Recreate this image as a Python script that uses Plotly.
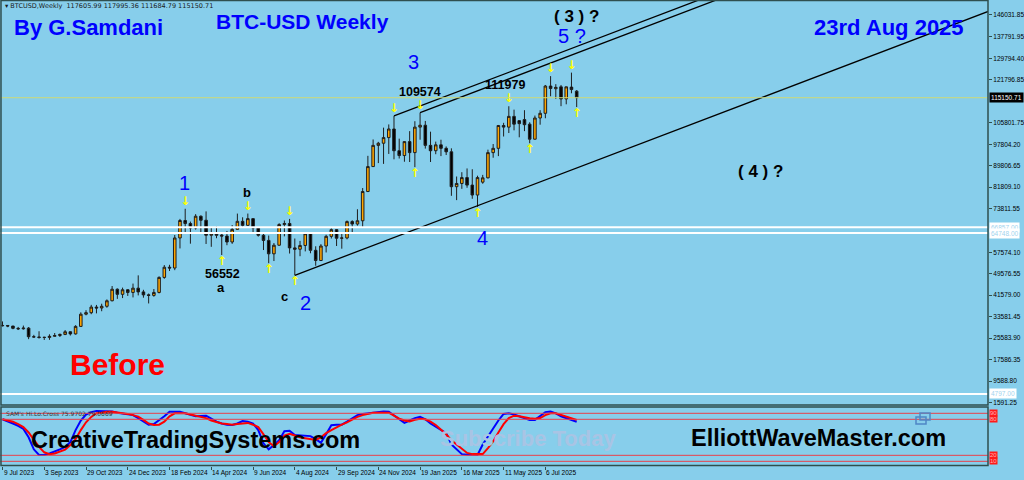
import plotly.graph_objects as go

# weekly bars, index 0 = week of 9 Jul 2023 (MT4 weekly)
OPEN = [30170, 30290, 30080, 29230, 29050, 29300, 26100, 26000, 25900, 25830,
        26250, 26560, 26950, 27950, 27150, 29950, 34500, 35050, 37150, 36800,
        37450, 39500, 43800, 41900, 43600, 42600, 44200, 42800, 41700, 41500,
        42600, 48200, 52000, 51700, 62900, 69400, 68300, 66600, 71000, 69500,
        63900, 64500, 64000, 63600, 61400, 66100, 69100, 67600, 70100, 66600,
        63900, 62000, 57000, 60200, 67900, 68300, 59200, 58700, 60100, 64500,
        58300, 54500, 59900, 63500, 66000, 62800, 62900, 69000, 68100, 69300,
        80200, 89500, 97400, 98200, 100300, 103500, 95400, 93600, 98800, 94700,
        104200, 104900, 97400, 95400, 97600, 96300, 95000, 82000, 83200, 85400,
        82600, 78900, 83700, 85300, 94700, 96300, 104800, 104200, 108200, 106600,
        107000, 105300, 99700, 107600, 109350, 119500, 118500, 119200, 114700, 119100,
        117606]
HIGH = [31800, 30400, 30150, 29750, 30250, 29700, 26800, 28140, 26100, 27000,
        27480, 27300, 28580, 28100, 30400, 35200, 35980, 37980, 37950, 38400,
        40000, 45000, 44100, 44400, 43800, 45900, 48970, 43580, 42200, 43880,
        48600, 52800, 52900, 64000, 70000, 73780, 69000, 71770, 71300, 72800,
        66900, 67200, 64700, 65500, 67700, 71980, 70600, 71990, 70200, 66900,
        64500, 63800, 61000, 68400, 69400, 70000, 62700, 61800, 65000, 64900,
        59800, 60600, 64100, 66500, 66100, 64500, 69400, 69500, 73600, 81500,
        93500, 99600, 98700, 104000, 105200, 108350, 99900, 98900, 102700, 106400,
        109574, 106500, 102500, 98800, 99500, 97000, 96300, 85800, 87400, 88800,
        88500, 86100, 86400, 95800, 97900, 105000, 105800, 111980, 110700, 106800,
        110500, 106000, 108500, 110500, 119900, 123200, 120200, 119900, 119300, 124500,
        117995]
LOW = [29950, 29650, 28900, 28600, 28750, 25200, 25800, 25400, 24900, 24950,
       26150, 26000, 26700, 26550, 26900, 29750, 34070, 34500, 34800, 35600,
       36900, 39300, 40200, 40500, 41300, 40750, 41500, 40650, 38500, 41000,
       42260, 47700, 50600, 50900, 59000, 64500, 60770, 66000, 64500, 60660,
       59600, 62800, 56552, 60200, 60700, 66000, 66600, 67400, 65000, 63400,
       58400, 53500, 54300, 60000, 63500, 57100, 49000, 56100, 57900, 57200,
       52550, 54300, 57500, 62700, 59900, 58900, 62400, 65000, 67500, 66800,
       80000, 89400, 90800, 90500, 94200, 92200, 92500, 91300, 91200, 89300,
       99500, 96200, 91200, 94100, 93400, 93800, 78600, 77000, 81200, 81600,
       77500, 74500, 83100, 85100, 92800, 93400, 100700, 102000, 103000, 100400,
       102700, 98200, 99600, 105100, 107500, 115700, 114700, 112000, 112700, 116800,
       111685]
CLOSE = [30290, 30080, 29230, 29050, 29300, 26100, 26000, 25850, 25830, 26250,
         26560, 26950, 27950, 27150, 29950, 34500, 35050, 37150, 36800, 37450,
         39500, 43800, 41900, 43600, 42600, 44200, 42800, 41700, 41500, 42600,
         48200, 52000, 51700, 62900, 69400, 68300, 66600, 71000, 69500, 63900,
         64500, 63900, 63600, 61400, 66100, 69100, 67600, 70100, 66600, 63900,
         62000, 57000, 60200, 67900, 68300, 59200, 58700, 60100, 64500, 58300,
         54500, 59900, 63500, 66000, 62800, 62900, 69000, 68100, 69300, 80200,
         89500, 97400, 98200, 100300, 103500, 95400, 93600, 98800, 94700, 104200,
         104900, 97400, 95400, 97600, 96300, 95000, 82000, 83200, 85400, 82600,
         78900, 85400, 85300, 94700, 96300, 104800, 104200, 108200, 105300, 105500,
         105100, 99700, 107600, 109350, 119500, 118600, 119000, 114700, 119200, 118200,
         115151]

# SAM's Hi.Lo.Cross oscillator (blue / red)
HILO_BLUE = [80, 77, 73, 69, 64, 50, 30, 20.5, 20.5, 23,
             26, 30, 34, 42, 62, 78, 88, 92, 94, 94,
             94, 93, 91, 90, 88, 87, 82, 76, 71, 72,
             78, 85, 92.7, 93, 92.7, 90, 87, 85, 85.5, 86,
             81, 76, 73, 71, 70.5, 73, 77, 76, 73, 62,
             40, 30, 37, 45, 60, 61, 54, 53, 52, 52,
             47, 41, 55, 70, 71, 71, 76, 82, 87, 89,
             90, 92, 92.7, 93, 92.7, 86, 80, 74, 78, 82,
             84, 80, 73, 68, 63, 57, 38, 30, 22, 21,
             20.5, 20.5, 38, 52, 65, 78, 89, 90, 88, 85,
             82, 79, 79, 85, 92, 93, 90, 85, 82, 79, 75.97]
HILO_RED = [80, 78, 76, 72, 67, 58, 46, 34, 25, 22,
            23, 26, 29.5, 37, 47, 62, 75, 84, 90, 91,
            92.5, 92.5, 91.5, 90.5, 89, 87, 84.5, 79, 73, 70.5,
            71, 76, 85, 90, 90, 90, 88, 86, 84.5, 82,
            78, 75, 73, 72, 71, 72, 73, 74, 71, 67,
            55, 42, 35, 42, 53, 56, 53, 50, 48.5, 47,
            45.5, 50, 57, 62, 67, 71, 75, 80, 84, 87,
            89, 91, 91, 91, 91, 86, 81, 78, 76.5, 79,
            81, 80, 76, 70.5, 63, 55, 45, 38, 30, 24,
            22, 22, 22, 32, 43, 58, 72, 82, 86, 85,
            83, 81.7, 81, 82, 87, 90, 90, 87, 84, 81.5, 79.07]
HILO_LEVELS = [90, 80, 20, 10]

DATE_LABELS = ["9 Jul 2023", "3 Sep 2023", "29 Oct 2023", "24 Dec 2023", "18 Feb 2024",
               "14 Apr 2024", "9 Jun 2024", "4 Aug 2024", "29 Sep 2024", "24 Nov 2024",
               "19 Jan 2025", "16 Mar 2025", "11 May 2025", "6 Jul 2025"]
DATE_STEP = 8  # weeks between time labels

PRICE_TICKS = [146031.85, 137791.95, 129794.40, 121796.85, 105801.75, 97804.20,
               89806.65, 81809.10, 73811.55, 57574.10, 49576.55, 41579.00,
               33581.45, 25583.90, 17586.35, 9588.80, 1591.25]
LAST_PRICE = 115150.71
WHITE_LEVELS = [66857.00, 64748.00, 4797.00]

# Elliott wave pivots (bar index) marked with arrows
DOWN_ARROWS = [35, 47, 55, 75, 80, 97, 105, 109]
UP_ARROWS = [42, 51, 56, 79, 91, 101, 110]

# channel lines: start pivot (bar, price), common slope in $/week
CHANNEL_STARTS = [(56, 49000), (75, 108350), (80, 109574)]
CHANNEL_SLOPE = 740

BG = "#87CEEB"
FRAME = "#2F4F4F"
W, H = 1024, 480
PW, PH = 988, 466  # plot area in pixels
MAIN_BOTTOM = (PH - 405) / PH
IND_TOP = (PH - 407) / PH

n = len(CLOSE)
idx = list(range(n))


def at(x, y):
    # pixel position on the page -> paper coordinates
    return dict(x=x / PW, y=(PH - y) / PH, xref="paper", yref="paper")


fig = go.Figure()

fig.add_trace(go.Candlestick(
    x=idx, open=OPEN, high=HIGH, low=LOW, close=CLOSE,
    increasing=dict(fillcolor="#FFA500", line=dict(color="#1e1e1e", width=1)),
    decreasing=dict(fillcolor="#000000", line=dict(color="#1e1e1e", width=1)),
    whiskerwidth=0, xaxis="x", yaxis="y", showlegend=False,
))

# channel lines
x_end = 200
for bx, by in CHANNEL_STARTS:
    fig.add_trace(go.Scatter(
        x=[bx, x_end], y=[by, by + (x_end - bx) * CHANNEL_SLOPE],
        mode="lines", line=dict(color="black", width=1.3),
        xaxis="x", yaxis="y", showlegend=False, hoverinfo="skip",
    ))

# yellow arrows above highs / below lows
arrow_gap = 2600
fig.add_trace(go.Scatter(
    x=DOWN_ARROWS, y=[HIGH[i] + arrow_gap for i in DOWN_ARROWS],
    mode="text", text=["↓"] * len(DOWN_ARROWS),
    textfont=dict(color="#FFFF00", size=12, family="DejaVu Sans", weight="bold"),
    xaxis="x", yaxis="y", showlegend=False, hoverinfo="skip",
))
fig.add_trace(go.Scatter(
    x=UP_ARROWS, y=[LOW[i] - arrow_gap for i in UP_ARROWS],
    mode="text", text=["↑"] * len(UP_ARROWS),
    textfont=dict(color="#FFFF00", size=12, family="DejaVu Sans", weight="bold"),
    xaxis="x", yaxis="y", showlegend=False, hoverinfo="skip",
))

# oscillator
fig.add_trace(go.Scatter(x=idx, y=HILO_BLUE, mode="lines", line=dict(color="#0000FF", width=2),
                         xaxis="x", yaxis="y2", showlegend=False))
fig.add_trace(go.Scatter(x=idx, y=HILO_RED, mode="lines", line=dict(color="#FF0000", width=2),
                         xaxis="x", yaxis="y2", showlegend=False))

shapes = []
shapes.append(dict(type="line", xref="paper", yref="y", x0=0, x1=1, y0=LAST_PRICE, y1=LAST_PRICE,
                   line=dict(color="#cdda78", width=1)))
for lv in WHITE_LEVELS:
    shapes.append(dict(type="line", xref="paper", yref="y", x0=0, x1=1, y0=lv, y1=lv,
                       line=dict(color="white", width=2)))
for lv in HILO_LEVELS:
    shapes.append(dict(type="line", xref="paper", yref="y2", x0=0, x1=1, y0=lv, y1=lv,
                       line=dict(color="#e8404a", width=1)))
shapes.append(dict(type="rect", xref="paper", yref="paper", x0=0.001, x1=1, y0=MAIN_BOTTOM, y1=0.999,
                   line=dict(color=FRAME, width=1.5)))
shapes.append(dict(type="rect", xref="paper", yref="paper", x0=0.001, x1=1, y0=0.001, y1=IND_TOP,
                   line=dict(color=FRAME, width=1.5)))
# small window icon in the indicator pane
for ox, oy in [(920, 413), (916, 417)]:
    p0, p1 = at(ox, oy), at(ox + 10, oy + 7)
    shapes.append(dict(type="rect", xref="paper", yref="paper", x0=p0["x"], x1=p1["x"],
                       y0=p1["y"], y1=p0["y"], line=dict(color="#4f86c6", width=1.5)))

ann = []


def label(x, y, text, size, color="black", bold=False, family="Liberation Sans", xanchor="center"):
    d = at(x, y)
    d.update(text=text, showarrow=False, xanchor=xanchor, yanchor="middle",
             font=dict(family=family, size=size, color=color, weight="bold" if bold else "normal"))
    ann.append(d)


label(3, 6, "▾ BTCUSD,Weekly  117605.99 117995.36 111684.79 115150.71", 6.5,
      color="#1a1a1a", xanchor="left", family="DejaVu Sans")
label(88, 28, "By G.Samdani", 22, "#0000FF", True)
label(302, 22, "BTC-USD Weekly", 21, "#0000FF", True)
label(889, 28, "23rd Aug 2025", 22, "#0000FF", True)
label(576, 17, "( 3 ) ?", 17, "black", True)
label(572, 36, "5 ?", 20, "#0000FF")
label(413, 62, "3", 20, "#0000FF")
label(420, 92, "109574", 12.5, "black", True)
label(505, 85, "111979", 12.5, "black", True)
label(184, 183, "1", 20, "#0000FF")
label(247, 192, "b", 13, "black", True)
label(222, 274, "56552", 12.5, "black", True)
label(221, 287, "a", 13, "black", True)
label(284, 296, "c", 13, "black", True)
label(305, 303, "2", 20, "#0000FF")
label(482, 238, "4", 20, "#0000FF")
label(760, 171, "( 4 ) ?", 17, "black", True)
label(117, 364, "Before", 30, "#FF0000", True)
label(195, 440, "CreativeTradingSystems.com", 23.5, "black", True)
label(528, 438, "Subscribe Today", 22, "#a9c4e4", True)
label(818, 438, "ElliottWaveMaster.com", 23.5, "black", True)
label(4, 413, "SAM's Hi.Lo.Cross 75.9702 79.0669", 6, "#333333", xanchor="left", family="DejaVu Sans")

# time labels under the indicator pane
for k, t in enumerate(DATE_LABELS):
    ann.append(dict(x=k * DATE_STEP, y=0, xref="x", yref="paper", text=t, showarrow=False,
                    xanchor="left", yanchor="top", xshift=-1, yshift=-1,
                    font=dict(family="Liberation Sans", size=6.5, color="black")))

# price boxes on the right scale
ann.append(dict(x=1, y=LAST_PRICE, xref="paper", yref="y", text=f"{LAST_PRICE:.2f}", showarrow=False,
                xanchor="left", yanchor="middle", xshift=1, bgcolor="black", borderpad=1,
                font=dict(family="Liberation Sans", size=6.5, color="white")))
for lv in WHITE_LEVELS:
    ann.append(dict(x=1, y=lv, xref="paper", yref="y", text=f"{lv:.2f}", showarrow=False,
                    xanchor="left", yanchor="middle", xshift=1, bgcolor="white", borderpad=1,
                    font=dict(family="Liberation Sans", size=6.5, color="#9fd3ee")))
for lv in HILO_LEVELS:
    ann.append(dict(x=1, y=lv, xref="paper", yref="y2", text=str(lv), showarrow=False,
                    xanchor="left", yanchor="middle", xshift=1, bgcolor="#FF1a1a", borderpad=0,
                    font=dict(family="Liberation Sans", size=6, color="#ffb0b0")))

fig.update_layout(
    width=W, height=H,
    margin=dict(l=0, r=W - PW, t=0, b=H - PH, autoexpand=False),
    paper_bgcolor=BG, plot_bgcolor=BG,
    showlegend=False,
    xaxis=dict(range=[-0.479, 188.8], anchor="y2", showgrid=False, zeroline=False,
               automargin=False, rangeslider=dict(visible=False), showticklabels=False,
               tickvals=[k * DATE_STEP for k in range(len(DATE_LABELS))],
               ticks="outside", ticklen=3, tickcolor=FRAME),
    yaxis=dict(domain=[MAIN_BOTTOM, 1], range=[664, 151560], side="right", showgrid=False,
               zeroline=False, automargin=False,
               tickvals=PRICE_TICKS, ticktext=[f"{v:.2f}" for v in PRICE_TICKS],
               ticks="outside", ticklen=3, tickcolor=FRAME,
               tickfont=dict(family="Liberation Sans", size=6.5, color="black")),
    yaxis2=dict(domain=[0, IND_TOP], range=[2.2, 100.5], side="right", showgrid=False,
                zeroline=False, automargin=False, showticklabels=False),
    shapes=shapes,
    annotations=ann,
)

# page body has a default 8px margin; drop it so the figure fills the window
fig.write_html("out.html", config={"displayModeBar": False},
               post_script="document.body.style.margin='0';")
